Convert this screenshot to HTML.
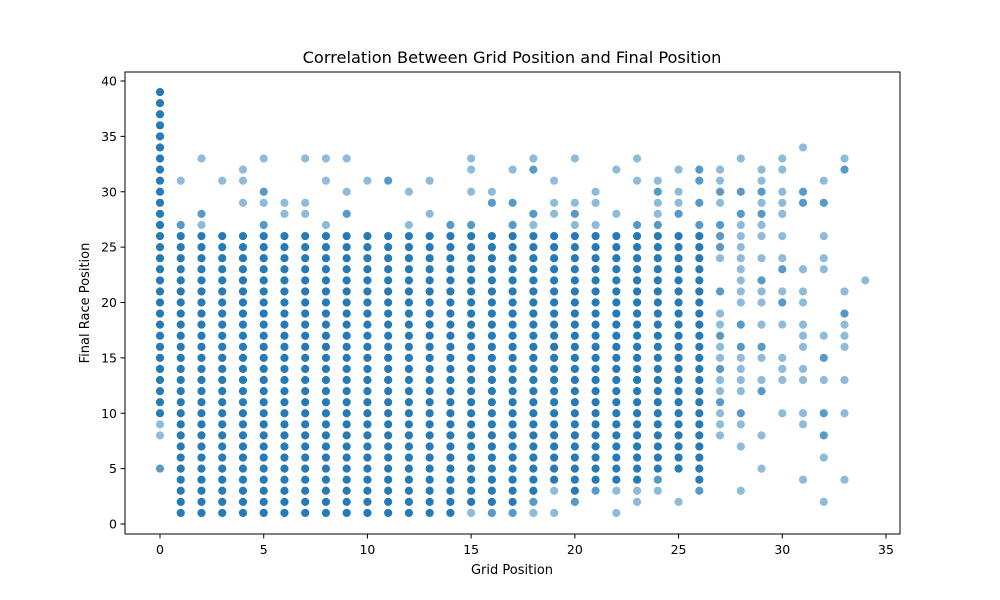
<!DOCTYPE html>
<html><head><meta charset="utf-8"><style>
body{margin:0;background:#fff;}
svg{display:block;font-family:"DejaVu Sans","Liberation Sans",sans-serif;}
</style></head><body>
<svg id="chart" width="1000" height="600">
<rect width="1000" height="600" fill="#fff"/>
<text x="512" y="63" text-anchor="middle" font-size="16.2">Correlation Between Grid Position and Final Position</text>
<text x="512" y="574" text-anchor="middle" font-size="13">Grid Position</text>
<text x="89" y="303" text-anchor="middle" font-size="13" transform="rotate(-90 89 303)">Final Race Position</text>
<g id="marks"></g>
<g id="axes"></g>
<rect x="125" y="72" width="775" height="462" fill="none" stroke="#000" stroke-width="1"/>
</svg>
<script>
const xTicks=[0,5,10,15,20,25,30,35];
const yTicks=[0,5,10,15,20,25,30,35,40];
const gridPositions=[0,1,2,3,4,5,6,7,8,9,10,11,12,13,14,15,16,17,18,19,20,21,22,23,24,25,26,27,28,29,30,31,32,33,34];
// dense range [low, high] per grid position (null = none)
const denseLow=[10,1,1,1,1,1,1,1,1,1,1,1,1,1,1,2,2,2,3,4,3,4,4,4,5,5,4,null,null,null,null,null,null,null,null];
const denseHigh=[39,26,26,26,26,26,26,26,26,26,26,26,26,26,26,26,26,26,26,26,26,26,26,26,26,26,26,null,null,null,null,null,null,null,null];
// medium-opacity extras
const mediumPts=[[5],[27],[28],[],[],[27,30],[],[],[],[28],[],[31],[],[],[27],[27],[29,1],[27,29,1],[28,32,2],[],[28,2],[3],[],[27],[27,30,4],[28],[27,29,31,32,3],[11,14,17,21,25,26,27,30],[10,16,18,28,30],[12,16,22,28,30],[20,23],[29,30],[8,10,15,29],[19,32],[]];
// light extras
const lightPts=[[8,9],[31],[27,33],[31],[29,31,32],[29,33],[28,29],[28,29,33],[27,31,33],[30,33],[31],[],[27,30],[28,31],[],[1,30,32,33],[30],[32],[27,33,1],[28,29,31,1,3],[27,29,33],[27,29,30],[28,32,1,3],[31,33,2,3],[28,29,31,3],[29,30,32,2],[],[8,9,10,12,13,15,16,18,19,24,29,31,32],[3,7,9,12,13,14,15,20,21,22,23,24,25,26,27,33],[5,8,13,15,18,20,21,24,26,27,29,31,32],[10,13,14,15,18,21,24,26,28,29,30,32,33],[4,9,10,13,14,16,17,18,20,21,23,34],[2,6,13,17,23,24,26,31],[4,10,13,16,17,18,21,33],[22]];

const X0=160,XS=(886-160)/35,Y0=524,YS=(524-81)/40;
function xs(v){return X0+v*XS;}
function ys(v){return Y0-v*YS;}
const NS="http://www.w3.org/2000/svg";
const marks=document.getElementById('marks');
function dot(g,y,op,name){
  const c=document.createElementNS(NS,'circle');
  c.setAttribute('cx',xs(g));c.setAttribute('cy',ys(y));c.setAttribute('r',4.4);
  c.setAttribute('fill','#1f77b4');c.setAttribute('fill-opacity',op);
  c.setAttribute('stroke','#fff');c.setAttribute('stroke-width',0.6);
  
  
  marks.appendChild(c);
}
gridPositions.forEach((g,i)=>{
  if(denseLow[i]!==null){for(let y=denseLow[i];y<=denseHigh[i];y++)dot(g,y,0.97,'point-dense');}
  mediumPts[i].forEach(y=>dot(g,y,0.75,'point'));
  lightPts[i].forEach(y=>dot(g,y,0.5,'point'));
});
const axes=document.getElementById('axes');
xTicks.forEach(t=>{
  const l=document.createElementNS(NS,'line');
  l.setAttribute('x1',xs(t));l.setAttribute('x2',xs(t));l.setAttribute('y1',534);l.setAttribute('y2',538.5);l.setAttribute('stroke','#000');
  
  
  axes.appendChild(l);
  const tx=document.createElementNS(NS,'text');
  tx.setAttribute('x',xs(t));tx.setAttribute('y',554);tx.setAttribute('text-anchor','middle');tx.setAttribute('font-size','12.5');
  tx.textContent=t;
  
  
  axes.appendChild(tx);
});
yTicks.forEach(t=>{
  const l=document.createElementNS(NS,'line');
  l.setAttribute('x1',120.5);l.setAttribute('x2',125);l.setAttribute('y1',ys(t));l.setAttribute('y2',ys(t));l.setAttribute('stroke','#000');
  
  
  axes.appendChild(l);
  const tx=document.createElementNS(NS,'text');
  tx.setAttribute('x',117);tx.setAttribute('y',ys(t)+4.5);tx.setAttribute('text-anchor','end');tx.setAttribute('font-size','12.5');
  tx.textContent=t;
  
  
  axes.appendChild(tx);
});
</script>
</body></html>
